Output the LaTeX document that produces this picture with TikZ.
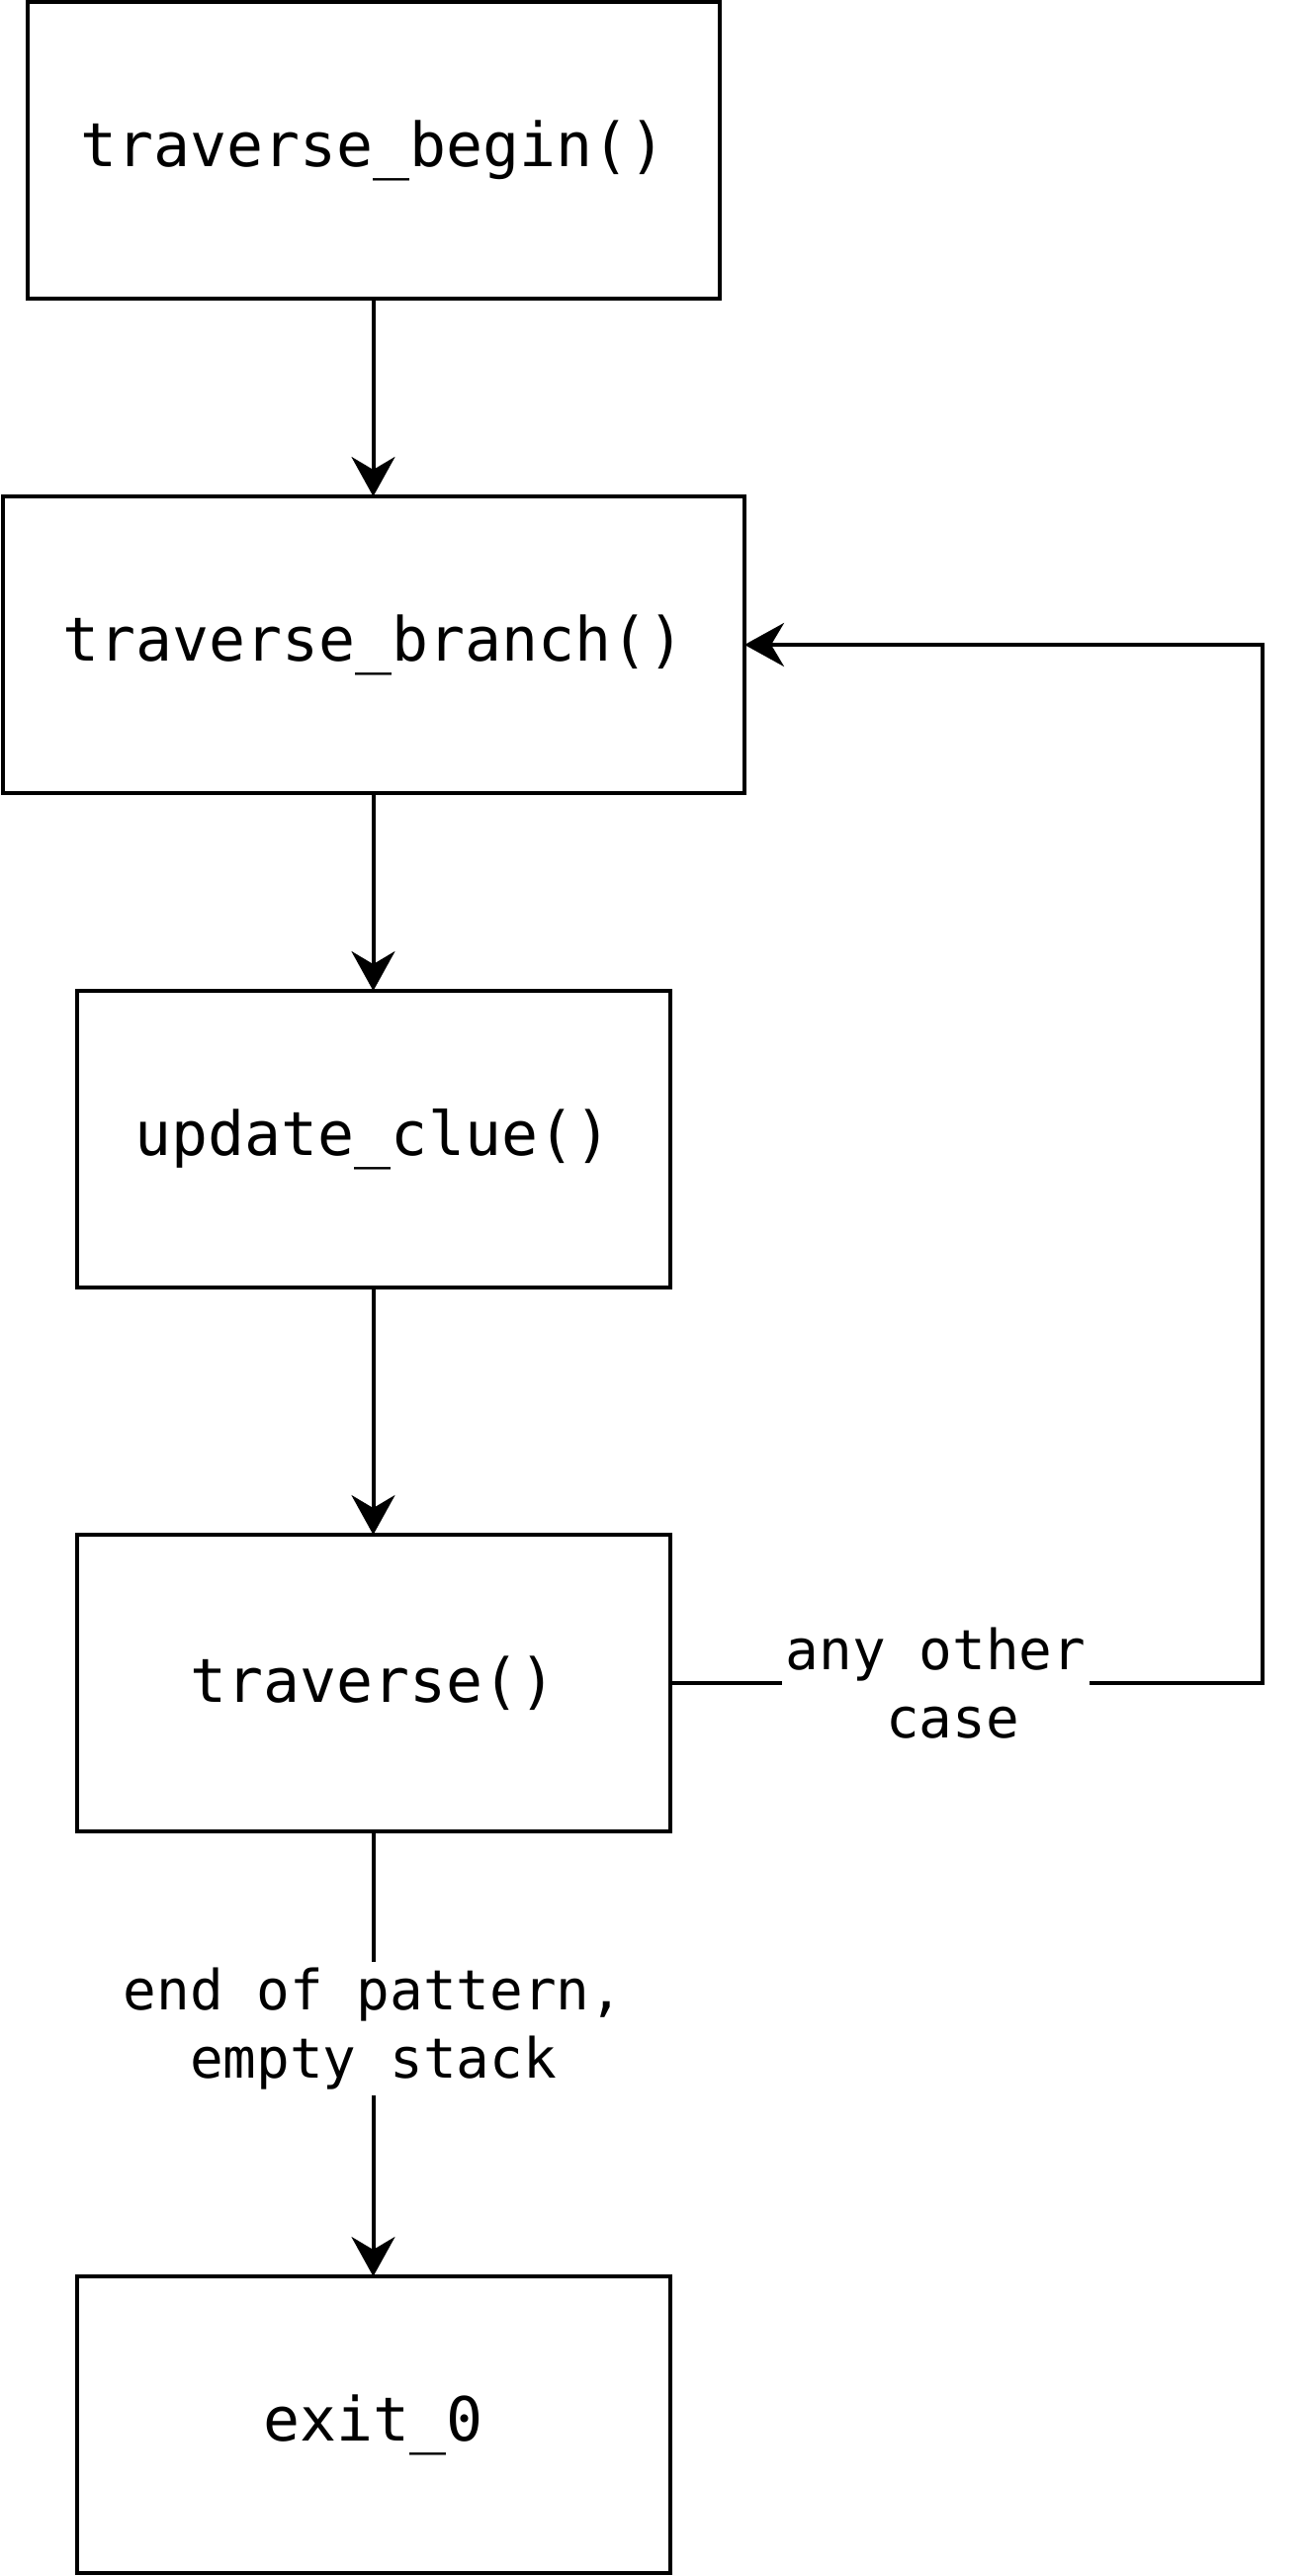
\documentclass[tikz,border=0pt]{standalone}
\usepackage{fontspec}
\setmonofont{DejaVu Sans Mono}
\usetikzlibrary{arrows.meta}
\begin{document}
\begin{tikzpicture}[x=1pt,y=-1pt,
  box/.style={draw=black, line width=4pt, minimum height=300pt, inner sep=0pt, outer sep=0pt,
    font=\fontsize{61.5}{75}\selectfont\ttfamily},
  lbl/.style={fill=white, inner xsep=4pt, inner ysep=6pt, align=center,
    font=\fontsize{56}{69}\selectfont\ttfamily},
  conn/.style={line width=4pt, -{Stealth[length=40pt,width=44pt,inset=13pt]}}]
\useasboundingbox (0,0) rectangle (1325,2605);
\node[box, minimum width=700pt] (begin) at (377.5,152) {traverse\_begin()};
\node[box, minimum width=750pt] (branch) at (378,652) {traverse\_branch()};
\node[box, minimum width=600pt] (clue) at (377.5,1152) {update\_clue()};
\node[box, minimum width=600pt] (trav) at (377.5,1702) {traverse()};
\node[box, minimum width=600pt] (exit) at (377.5,2452) {exit\_0};
\coordinate (loopc) at (1277,1702);
\draw[conn] (begin.south) -- (begin.south |- branch.north);
\draw[conn] (clue.north |- branch.south) -- (clue.north);
\draw[conn] (clue.south) -- (trav.north);
\draw[conn] (trav.east) -- node[lbl, pos=0.449] {any other\\\hphantom{x}case} (loopc) |- (branch.east);
\draw[conn] (trav.south) -- node[lbl, pos=0.444] {end of pattern,\\empty stack} (exit.north);
\end{tikzpicture}
\end{document}
